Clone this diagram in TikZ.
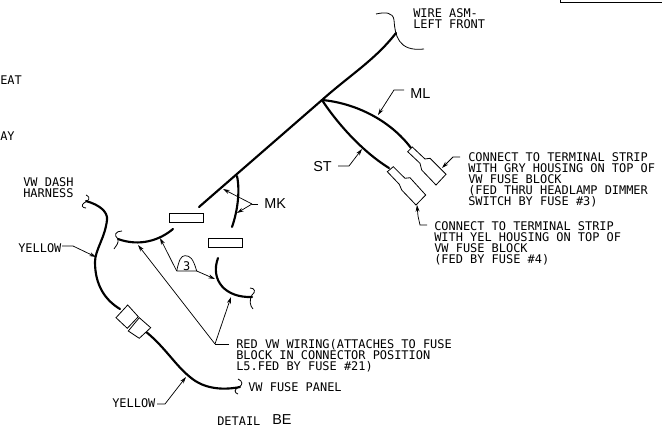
\documentclass[tikz,border=0pt]{standalone}
\usepackage{fontspec}
\setmainfont{DejaVu Sans Mono}
\newfontfamily\bigfont{Liberation Sans}
\usetikzlibrary{arrows.meta}
\tikzset{
 lbl/.style={anchor=west,inner sep=0pt,align=left,font=\fontsize{8.95}{8.2}\selectfont},
 big/.style={anchor=west,inner sep=0pt,font=\bigfont\fontsize{10.8}{11}\selectfont},
 wire/.style={line width=1.6pt,line cap=round},
 thin line/.style={line width=0.55pt},
 ldr/.style={line width=0.55pt,-{Stealth[length=5pt,width=3pt]}},
 brk/.style={line width=0.6pt},
 housing/.style={line width=0.6pt,fill=white,line join=miter}
}
\begin{document}
\begin{tikzpicture}[x=0.75pt,y=-0.75pt]
\useasboundingbox (0,0) rectangle (662,432);
% labels
\node[lbl] (seat) at (0,80) {EAT};
\node[lbl] (way) at (0,136) {AY};
\node[lbl] (asm) at (413,18.5) {WIRE ASM-\\LEFT FRONT};
\node[lbl] (dash) at (23,188) {VW DASH\\HARNESS};
\node[lbl] (gry) at (468,180) {CONNECT TO TERMINAL STRIP\\WITH GRY HOUSING ON TOP OF\\VW FUSE BLOCK\\(FED THRU HEADLAMP DIMMER\\SWITCH BY FUSE \#3)};
\node[lbl] (yel) at (434,243) {CONNECT TO TERMINAL STRIP\\WITH YEL HOUSING ON TOP OF\\VW FUSE BLOCK\\(FED BY FUSE \#4)};
\node[lbl] (red) at (236,356) {RED VW WIRING(ATTACHES TO FUSE\\BLOCK IN CONNECTOR POSITION\\L5.FED BY FUSE \#21)};
\node[lbl] (panel) at (248,387) {VW FUSE PANEL};
\node[lbl] (yone) at (18,248) {YELLOW};
\node[lbl] (ytwo) at (112,403) {YELLOW};
\node[lbl] (det) at (217,421) {DETAIL};
\node[big] (be) at (272,420) {BE};
\node[big] (ml) at (410,94) {ML};
\node[big] (st) at (313,167) {ST};
\node[big] (mk) at (264,204) {MK};
% top right frame fragment
\draw[thin line] (560.5,0) -- (560.5,2.5) -- (662,2.5);
% wires
\coordinate (hub) at (322,100);
\draw[wire] (199,207) -- (hub) .. controls (350,75) and (375,60) .. (396,33);
\draw[wire] (hub) .. controls (355,103) and (390,120) .. (411,148);
\draw[wire] (hub) .. controls (335,120) and (360,150) .. (389,168);
\draw[wire] (237,176) .. controls (240,190) and (238,210) .. (232,227);
\draw[wire] (173,229) .. controls (160,240) and (140,247) .. (118,239);
\draw[wire] (218,258) .. controls (210,280) and (225,298) .. (252,297);
\draw[wire] (86,201) .. controls (100,205) and (108,212) .. (107,220) .. controls (105,238) and (95,250) .. (95,262) .. controls (95,285) and (105,300) .. (120,309);
\draw[wire] (145,331) .. controls (165,347) and (175,365) .. (190,377) .. controls (205,390) and (225,390) .. (240,387);
% break marks
\draw[brk] (376,14) .. controls (385,12) and (393,12) .. (394,20) .. controls (395,35) and (398,52) .. (424,49);
\draw[brk] (122,231) .. controls (116,231) and (113,235) .. (118,239) .. controls (119,243) and (116,246) .. (114,249);
\draw[brk] (250,288) .. controls (255,288) and (256,292) .. (252,295) .. controls (249,300) and (250,306) .. (253,309);
\draw[brk] (86,195) .. controls (92,198) and (88,201) .. (84,203) .. controls (81,205) and (82,208) .. (86,208);
\draw[brk] (238,379) .. controls (243,381) and (243,385) .. (239,387) .. controls (234,389) and (234,393) .. (238,394);
% boxes
\node[draw,thin line,minimum width=25.5pt,minimum height=6.8pt,inner sep=0pt] (b1) at (186,217.5) {};
\node[draw,thin line,minimum width=25.5pt,minimum height=6.8pt,inner sep=0pt] (b2) at (225,242.5) {};
% connector housings
\draw[housing] (407.7,151.7) -- (412.3,147) -- (425,159) -- (430,158.3) -- (446,174.3) -- (436,185) -- (421.7,170) -- (420,163.3) -- cycle;
\draw[housing] (387.3,171.7) -- (393.3,166.7) -- (405,178.3) -- (410,177.7) -- (425.7,195) -- (416,205) -- (401.7,190) -- (399.3,184.3) -- cycle;
\draw[housing] (116,317.7) -- (127.7,305) -- (138.3,316.7) -- (127.3,328.3) -- cycle;
\draw[housing] (128.3,331) -- (139.3,317.7) -- (150.7,327.7) -- (139.3,338.3) -- cycle;
% leaders
\coordinate (mlk) at (394,90);
\draw[ldr] (404,90) -- (mlk) -- (378,115);
\coordinate (stk) at (349,166);
\draw[ldr] (338,166) -- (stk) -- (362,149);
\coordinate (gk) at (453,157);
\draw[ldr] (460,157) -- (gk) -- (442,168);
\draw[ldr] (427,225) -- (420,225) -- (418,216) -- (417,205);
\coordinate (mkk) at (252,204);
\draw[thin line] (258,204) -- (mkk);
\draw[ldr] (mkk) -- (223,189);
\draw[ldr] (mkk) -- (237,213);
\draw[ldr] (62,246) -- (73,246) -- (96,257);
\draw[ldr] (157,404) -- (165,404) -- (186,377);
\coordinate (rk) at (215,344);
\draw[thin line] (229,344) -- (rk);
\draw[ldr] (rk) -- (138,245);
\draw[ldr] (rk) -- (231,297);
% flag 3
\coordinate (fl) at (176.7,271);
\coordinate (fr) at (196.7,271);
\draw[thin line] (fl) -- (fr) .. controls (193,258) and (190,255.7) .. (185,255.7) .. controls (181,255.7) and (179,260) .. (fl);
\node[lbl,anchor=center] (three) at (186.7,266) {3};
\draw[ldr] (fl) -- (160,238);
\draw[ldr] (fr) -- (215,279);
\end{tikzpicture}
\end{document}
